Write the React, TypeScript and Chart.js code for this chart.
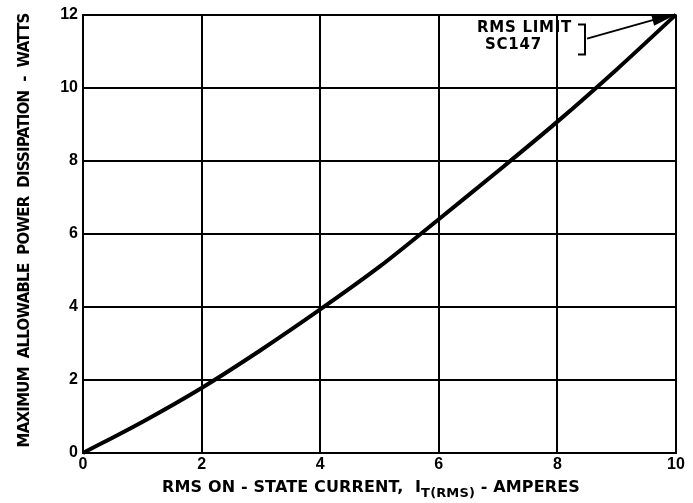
import React, { useEffect, useRef } from "react";
import { Chart, registerables } from "chart.js";

Chart.register(...registerables);

const currentAmps = [0, 1, 2, 3, 4, 5, 6, 7, 8, 9, 10];
const powerWatts = [0, 0.85, 1.78, 2.82, 3.93, 5.1, 6.4, 7.72, 9.07, 10.5, 12];
const xTickStep = 2;
const yTickStep = 2;
const yTitle = "MAXIMUM  ALLOWABLE  POWER  DISSIPATION  -  WATTS";
const xTitleMain = "RMS ON - STATE CURRENT,  I";
const xTitleSub = "T(RMS)";
const xTitleEnd = " - AMPERES";
const noteLines = ["RMS LIMIT", "SC147"];
const limitPoint = { x: 10, y: 12 };

const FONT = '"Liberation Sans", Arial, sans-serif';
const TFONT = '"DejaVu Sans", sans-serif';

function spacingFor(ctx: CanvasRenderingContext2D, text: string, target: number) {
  (ctx as any).letterSpacing = "0px";
  const w = ctx.measureText(text).width;
  return (target - w) / text.length;
}

const decorPlugin = {
  id: "decor",
  afterDraw(chart: any) {
    const ctx = chart.ctx as CanvasRenderingContext2D;
    const xs = chart.scales.x;
    const ys = chart.scales.y;
    ctx.save();
    ctx.fillStyle = "#000";
    ctx.strokeStyle = "#000";

    // Y title
    ctx.font = `bold 15px ${TFONT}`;
    ctx.textAlign = "center";
    ctx.textBaseline = "middle";
    const ls = spacingFor(ctx, yTitle, 434);
    ctx.save();
    ctx.translate(25, 230);
    ctx.rotate(-Math.PI / 2);
    (ctx as any).letterSpacing = `${ls}px`;
    ctx.fillText(yTitle, ls / 2, 0);
    ctx.restore();

    // X title with subscript
    ctx.font = `bold 16px ${TFONT}`;
    (ctx as any).letterSpacing = "0px";
    const a1 = ctx.measureText(xTitleMain).width;
    const a3 = ctx.measureText(xTitleEnd).width;
    ctx.font = `bold 13px ${TFONT}`;
    const a2 = ctx.measureText(xTitleSub).width;
    const nChars = xTitleMain.length + xTitleSub.length + xTitleEnd.length;
    const xls = (418 - (a1 + a2 + a3)) / nChars;
    (ctx as any).letterSpacing = `${xls}px`;
    ctx.font = `bold 16px ${TFONT}`;
    const w1 = ctx.measureText(xTitleMain).width;
    const w3 = ctx.measureText(xTitleEnd).width;
    ctx.font = `bold 13px ${TFONT}`;
    const w2 = ctx.measureText(xTitleSub).width;
    let x0 = 162;
    const yBase = 488;
    ctx.textAlign = "left";
    ctx.textBaseline = "middle";
    ctx.font = `bold 16px ${TFONT}`;
    ctx.fillText(xTitleMain, x0, yBase);
    x0 += w1;
    ctx.font = `bold 13px ${TFONT}`;
    ctx.fillText(xTitleSub, x0, yBase + 6);
    x0 += w2;
    ctx.font = `bold 16px ${TFONT}`;
    ctx.fillText(xTitleEnd, x0, yBase);
    (ctx as any).letterSpacing = "0px";

    // Annotation
    const tipX = xs.getPixelForValue(limitPoint.x);
    const tipY = ys.getPixelForValue(limitPoint.y);
    ctx.font = `bold 15px ${TFONT}`;
    ctx.textAlign = "left";
    let s = spacingFor(ctx, noteLines[0], 95);
    (ctx as any).letterSpacing = `${s}px`;
    ctx.fillText(noteLines[0], tipX - 199, tipY + 14);
    ctx.font = `bold 15px ${TFONT}`;
    s = spacingFor(ctx, noteLines[1], 57);
    (ctx as any).letterSpacing = `${s}px`;
    ctx.fillText(noteLines[1], tipX - 191, tipY + 31);
    (ctx as any).letterSpacing = "0px";
    // bracket
    const bx = tipX - 91;
    ctx.lineWidth = 2;
    ctx.beginPath();
    ctx.moveTo(bx - 7, tipY + 10);
    ctx.lineTo(bx, tipY + 10);
    ctx.lineTo(bx, tipY + 40);
    ctx.lineTo(bx - 7, tipY + 40);
    ctx.stroke();
    // leader
    const sx = bx + 2;
    const sy = tipY + 24;
    ctx.beginPath();
    ctx.moveTo(sx, sy);
    ctx.lineTo(tipX - 18, tipY + 4);
    ctx.stroke();
    // arrow head
    const ang = Math.atan2(tipY - sy, tipX - sx);
    const len = 24;
    const half = 5;
    const bxh = tipX - len * Math.cos(ang);
    const byh = tipY - len * Math.sin(ang);
    ctx.beginPath();
    ctx.moveTo(tipX, tipY);
    ctx.lineTo(bxh + half * Math.sin(ang), byh - half * Math.cos(ang));
    ctx.lineTo(bxh - half * Math.sin(ang), byh + half * Math.cos(ang));
    ctx.closePath();
    ctx.fill();
    ctx.restore();
  },
};

export default function App() {
  const ref = useRef<HTMLCanvasElement>(null);
  useEffect(() => {
    if (!ref.current) return;
    const chart = new Chart(ref.current, {
      type: "line",
      data: {
        datasets: [
          {
            data: currentAmps.map((x, i) => ({ x, y: powerWatts[i] })),
            borderColor: "#000",
            borderWidth: 4,
            pointRadius: 0,
            tension: 0.3,
            fill: false,
            clip: false as any,
          },
        ],
      },
      options: {
        animation: false,
        responsive: false,
        maintainAspectRatio: false,
        layout: { padding: { left: 0, top: 10, right: 17, bottom: 0 } },
        plugins: { legend: { display: false }, tooltip: { enabled: false }, title: { display: false } },
        scales: {
          x: {
            type: "linear",
            min: 0,
            max: 10,
            afterFit: (s: any) => {
              s.height = 50;
            },
            ticks: {
              stepSize: xTickStep,
              color: "#000",
              font: { family: FONT, size: 16, weight: "bold" },
              padding: 2,
            },
            grid: { color: "#000", lineWidth: 2, drawTicks: false },
            border: { color: "#000", width: 2 },
          },
          y: {
            type: "linear",
            min: 0,
            max: 12,
            afterFit: (s: any) => {
              s.width = 83;
            },
            ticks: {
              stepSize: yTickStep,
              color: "#000",
              font: { family: FONT, size: 16, weight: "bold" },
              padding: 5,
            },
            grid: { color: "#000", lineWidth: 2, drawTicks: false },
            border: { color: "#000", width: 2 },
          },
        },
      },
      plugins: [decorPlugin],
    });
    return () => chart.destroy();
  }, []);
  return (
    <div style={{ position: "absolute", left: 0, top: 0, width: 693, height: 503, background: "#fff" }}>
      <canvas ref={ref} width={693} height={503} style={{ display: "block" }} />
    </div>
  );
}
